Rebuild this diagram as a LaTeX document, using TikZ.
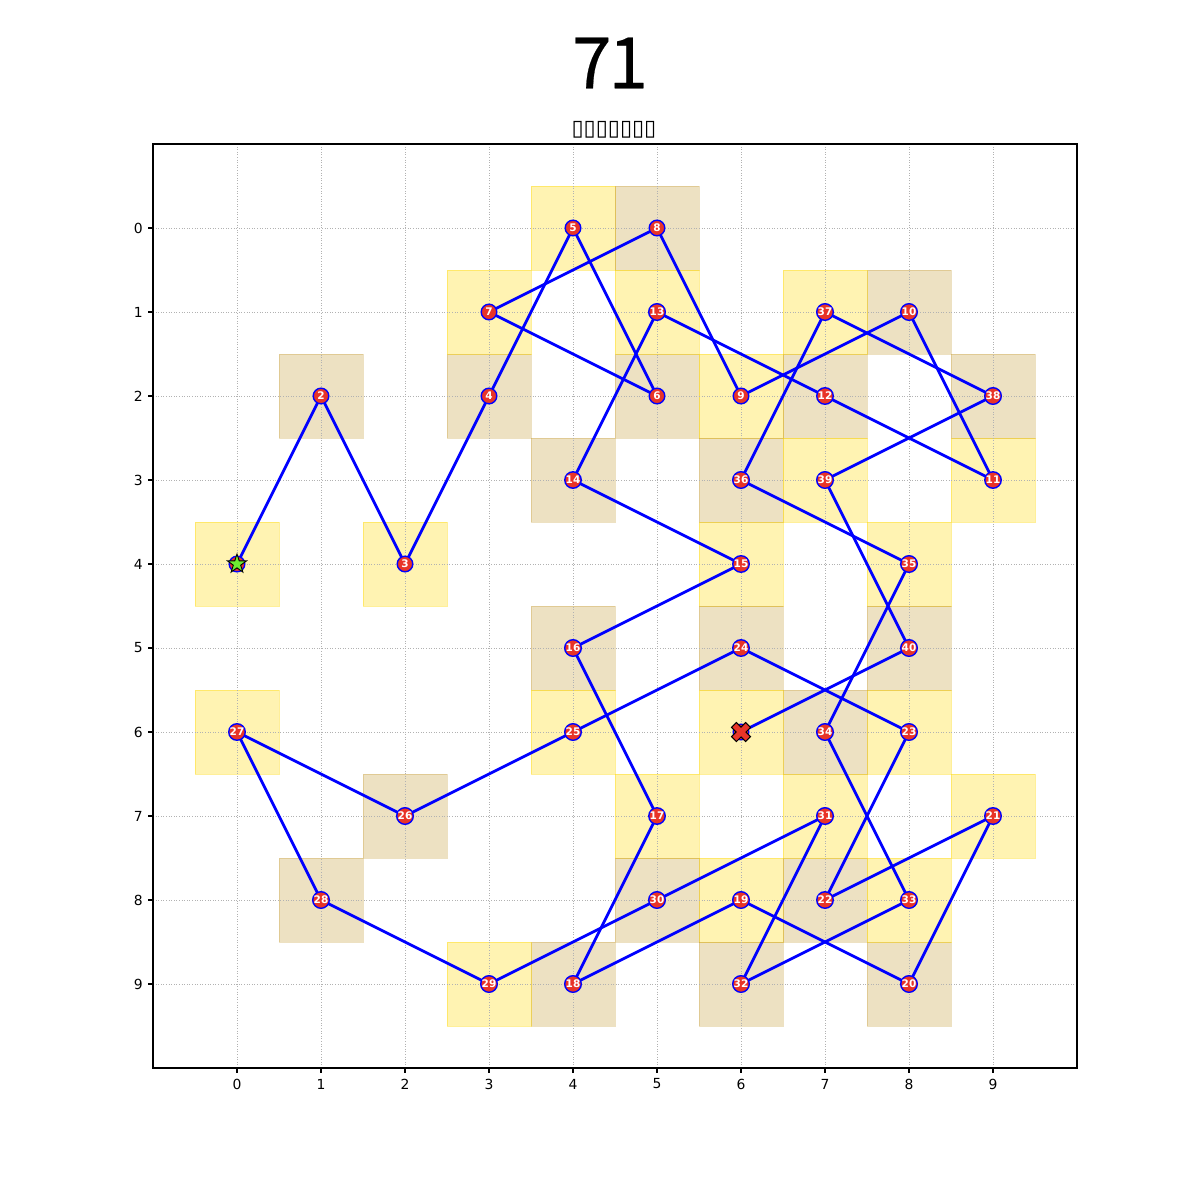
\documentclass[tikz,border=0pt]{standalone}
\usepackage{fontspec}
\setmainfont{DejaVu Sans}
\newfontfamily\titlefont[FakeBold=0.3]{Noto Sans CJK SC}
\usetikzlibrary{backgrounds,shapes.geometric}
\definecolor{gold}{RGB}{255,215,0}
\definecolor{dgold}{RGB}{184,134,11}
\definecolor{mred}{RGB}{232,52,40}
\definecolor{mgreen}{RGB}{110,235,50}
\begin{document}
\begin{tikzpicture}[
  sqY/.style={fill=gold, fill opacity=0.3, draw=gold, draw opacity=0.4, line width=1pt},
  sqT/.style={fill=dgold, fill opacity=0.25, draw=dgold, draw opacity=0.25, line width=1pt},
  gridln/.style={gray!60, line width=0.55pt, dash pattern=on 1pt off 1.6pt},
  route/.style={draw=blue, line width=2.8pt, line cap=round},
  pt/.style={circle, fill=mred, draw=blue, line width=1.4pt, minimum size=15.6pt, inner sep=0pt, text=white, font=\bfseries\fontsize{10.5}{10.5}\selectfont},
  ticklab/.style={font=\fontsize{13.9}{14}\selectfont, inner sep=0pt},
]
\useasboundingbox (0,0) rectangle (1200pt,-1200pt);
\node[font=\titlefont\fontsize{71}{71}\selectfont] (title) at (610pt,-63pt) {7\kern-3pt 1};
\node[font=\fontsize{22}{22}\selectfont] (subtitle) at (614pt,-130pt) {▯▯▯▯▯▯▯};
\begin{scope}[shift={(237pt,-228pt)}, x=84pt, y=-84pt]
  % nodes
  \foreach \i/\x/\y in {1/0/4,2/1/2,3/2/4,4/3/2,5/4/0,6/5/2,7/3/1,8/5/0,9/6/2,10/8/1,
    11/9/3,12/7/2,13/5/1,14/4/3,15/6/4,16/4/5,17/5/7,18/4/9,19/6/8,20/8/9,
    21/9/7,22/7/8,23/8/6,24/6/5,25/4/6,26/2/7,27/0/6,28/1/8,29/3/9,30/5/8,
    31/7/7,32/6/9,33/8/8,34/7/6,35/8/4,36/6/3,37/7/1,38/9/2,39/7/3,40/8/5} {
    \ifnum\i=1
      \node[pt] (n\i) at (\x,\y) {};
    \else
      \node[pt] (n\i) at (\x,\y) {\i};
    \fi
  }
  \node[pt] (n41) at (6,6) {};
  % start star
  \node[star, star points=5, star point ratio=2.6, fill=mgreen, draw=black, line width=0.9pt, minimum size=20pt, inner sep=0pt] (startmark) at (n1) {};
  % end X
  \draw[fill=mred, draw=black, line width=1pt, shift={(n41)}, rotate=45]
    (10pt,3.5pt) -- (3.5pt,3.5pt) -- (3.5pt,10pt) -- (-3.5pt,10pt) -- (-3.5pt,3.5pt) -- (-10pt,3.5pt)
    -- (-10pt,-3.5pt) -- (-3.5pt,-3.5pt) -- (-3.5pt,-10pt) -- (3.5pt,-10pt) -- (3.5pt,-3.5pt) -- (10pt,-3.5pt) -- cycle;
  \begin{pgfonlayer}{background}
    % squares
    \foreach \x/\y in {0/4,1/2,2/4,3/2,4/0,5/2,3/1,5/0,6/2,8/1,9/3,7/2,5/1,4/3,6/4,4/5,5/7,4/9,6/8,8/9,
      9/7,7/8,8/6,6/5,4/6,2/7,0/6,1/8,3/9,5/8,7/7,6/9,8/8,7/6,8/4,6/3,7/1,9/2,7/3,8/5,6/6} {
      \pgfmathparse{int(mod(\x+\y,2))}
      \ifnum\pgfmathresult=0
        \path[sqY] (\x-0.5,\y-0.5) rectangle (\x+0.5,\y+0.5);
      \else
        \path[sqT] (\x-0.5,\y-0.5) rectangle (\x+0.5,\y+0.5);
      \fi
    }
    % grid
    \foreach \k in {0,...,9} {
      \draw[gridln] (\k,-1) -- (\k,10);
      \draw[gridln] (-1,\k) -- (10,\k);
    }
    % route
    \foreach \a [count=\b from 2] in {1,...,40}
      \draw[route] (n\a.center) -- (n\b.center);
  \end{pgfonlayer}
  % frame and ticks
  \draw[line width=1.1pt] (-1,-1) rectangle (10,10);
  \foreach \k in {0,...,9} {
    \draw[line width=1.1pt] (\k,10) -- ++(0pt,-5pt);
    \draw[line width=1.1pt] (-1,\k) -- ++(-5pt,0pt);
    \node[ticklab, yshift=-16pt] at (\k,10) {\k};
    \node[ticklab, anchor=east, xshift=-10pt] at (-1,\k) {\k};
  }
\end{scope}
\end{tikzpicture}
\end{document}
